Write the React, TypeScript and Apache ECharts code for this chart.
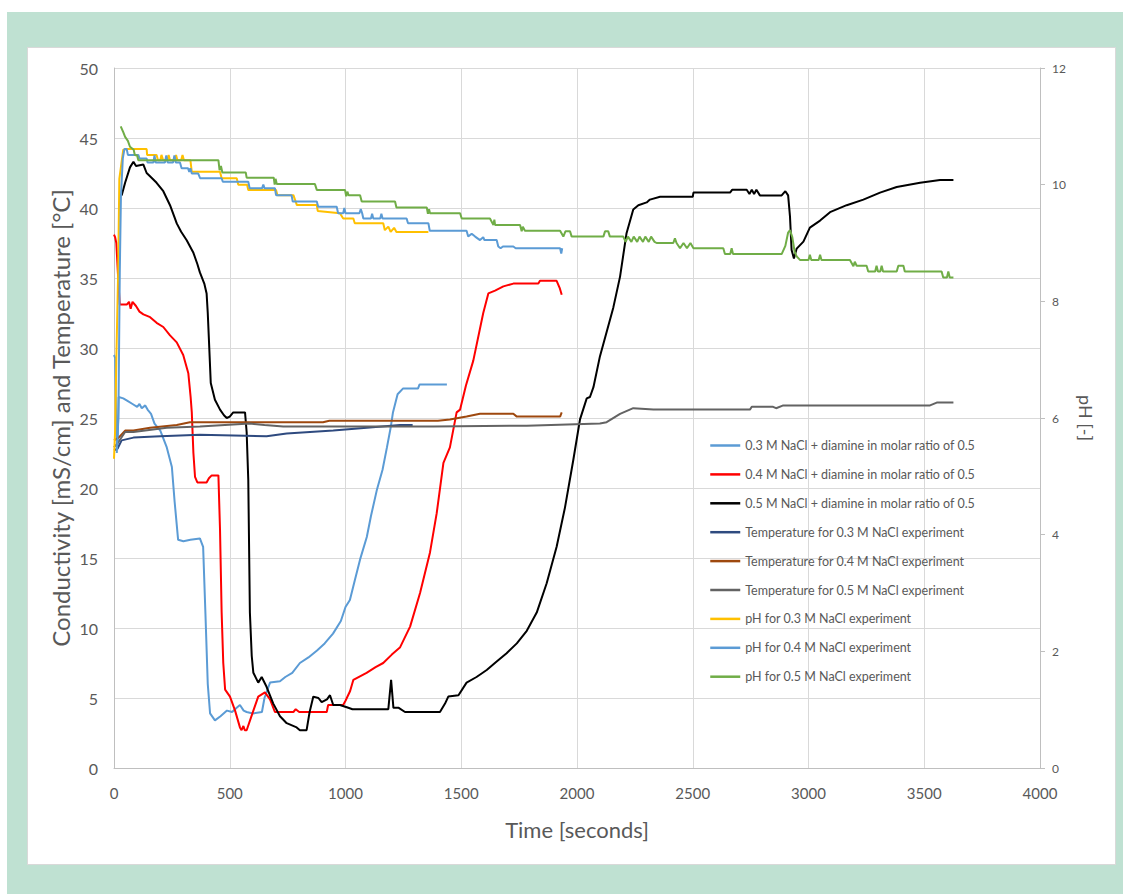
import React, { useEffect, useRef } from "react";
import * as echarts from "echarts";

const FONT = "Lato, 'Open Sans', sans-serif";

const legendNames = [
  "0.3 M NaCl + diamine in molar ratio of 0.5",
  "0.4 M NaCl + diamine in molar ratio of 0.5",
  "0.5 M NaCl + diamine in molar ratio of 0.5",
  "Temperature for 0.3 M NaCl experiment",
  "Temperature for 0.4 M NaCl experiment",
  "Temperature for 0.5 M NaCl experiment",
  "pH for 0.3 M NaCl experiment",
  "pH for 0.4 M NaCl experiment",
  "pH for 0.5 M NaCl experiment",
];

const leftAxisTitle = "Conductivity [mS/cm] and Temperature [°C]";

const seriesColors = [
  "#5b9bd5", "#ff0000", "#000000",
  "#2e4a7f", "#9e480e", "#636363",
  "#ffc000", "#5b9bd5", "#70ad47",
];

const xTicks = { min: 0, max: 4000, interval: 500 };
const leftTicks = { min: 0, max: 50, interval: 5 };
const rightTicks = { min: 0, max: 12, interval: 2 };

// Conductivity [mS/cm]
const cond03 = [
  [0, 29.5], [5, 29.3], [10, 24], [15, 22.8], [20, 26.5], [40, 26.4], [60, 26.2], [80, 26.0], [100, 25.8],
  [110, 26.0], [120, 25.7], [135, 25.9], [145, 25.6], [160, 25.3], [175, 24.6], [200, 24.1], [228, 22.9],
  [250, 21.5], [262, 19], [277, 16.3], [300, 16.2], [330, 16.3], [371, 16.4], [385, 15.8], [395, 11],
  [405, 6], [415, 3.9], [436, 3.4], [460, 3.7], [488, 4.1], [510, 4.0], [530, 4.3], [544, 4.5], [560, 4.1],
  [573, 4.0], [600, 3.9], [639, 4.0], [650, 5.0], [674, 6.1], [717, 6.2], [740, 6.5], [770, 6.8],
  [803, 7.5], [840, 7.9], [877, 8.4], [910, 8.9], [946, 9.6], [980, 10.5], [1000, 11.5], [1019, 12.0],
  [1040, 13.4], [1063, 14.9], [1092, 16.5], [1110, 18], [1136, 19.9], [1160, 21.3], [1179, 22.9],
  [1195, 24.3], [1205, 25.4], [1225, 26.7], [1248, 27.1], [1313, 27.1], [1320, 27.4], [1438, 27.4],
];

const cond04 = [
  [0, 38.1], [5, 37.9], [10, 37.5], [18, 35], [25, 33.1], [55, 33.1], [65, 33.3], [72, 32.8], [80, 33.3],
  [95, 33.0], [110, 32.6], [127, 32.4], [156, 32.2], [184, 31.8], [213, 31.5], [242, 30.9], [271, 30.4],
  [299, 29.5], [321, 28.2], [331, 26.5], [336, 25.4], [343, 22.5], [350, 20.8], [360, 20.4], [400, 20.4],
  [410, 20.7], [422, 20.9], [451, 20.9], [458, 17], [465, 11.1], [472, 7.5], [480, 5.6], [501, 5.1],
  [523, 4.1], [544, 2.9], [551, 2.7], [559, 3.0], [565, 2.7], [573, 2.7], [602, 4.1], [623, 5.1],
  [652, 5.4], [674, 4.9], [695, 4.0], [775, 4.0], [785, 4.2], [800, 4.0], [919, 4.0], [925, 4.5],
  [990, 4.5], [1000, 4.8], [1020, 5.5], [1034, 6.3], [1091, 6.8], [1130, 7.2], [1163, 7.5], [1200, 8.1],
  [1235, 8.6], [1279, 10.1], [1322, 12.5], [1365, 15.4], [1394, 18.2], [1423, 21.8], [1451, 22.9],
  [1480, 25.4], [1495, 25.6], [1520, 27.3], [1552, 29.1], [1595, 32.5], [1617, 33.9], [1646, 34.1],
  [1682, 34.4], [1725, 34.6], [1833, 34.6], [1840, 34.8], [1912, 34.8], [1925, 34.3], [1934, 33.8],
];

const cond05 = [
  [33, 40.9], [48, 41.8], [69, 42.9], [84, 43.3], [95, 43.0], [127, 43.1], [141, 42.5], [160, 42.2],
  [184, 41.8], [213, 41.2], [242, 40.2], [260, 39.4], [271, 38.9], [290, 38.3], [314, 37.7], [343, 36.8],
  [360, 36.0], [371, 35.4], [390, 34.6], [400, 33.9], [405, 32.5], [410, 30.6], [418, 27.5], [436, 26.3],
  [458, 25.6], [475, 25.2], [487, 25.0], [500, 25.1], [515, 25.4], [566, 25.4], [573, 24], [580, 20.6],
  [587, 11.1], [595, 8], [602, 6.8], [623, 6.1], [638, 6.5], [659, 5.8], [688, 4.6], [717, 3.7],
  [746, 3.2], [789, 2.9], [803, 2.7], [832, 2.7], [845, 4], [861, 5.1], [883, 5.0], [897, 4.7],
  [920, 4.9], [933, 5.2], [947, 4.5], [976, 4.5], [1012, 4.3], [1030, 4.2], [1185, 4.2], [1197, 6.3],
  [1207, 4.3], [1230, 4.3], [1257, 4.0], [1408, 4.0], [1430, 4.6], [1444, 5.1], [1488, 5.2], [1523, 6.1],
  [1566, 6.5], [1610, 7.0], [1653, 7.6], [1696, 8.2], [1740, 8.9], [1783, 9.8], [1826, 11.1],
  [1869, 13.2], [1912, 15.8], [1948, 18.6], [1984, 22.0], [2013, 24.9], [2042, 26.4], [2056, 26.5],
  [2071, 27.2], [2099, 29.4], [2157, 32.9], [2186, 35.1], [2214, 38.2], [2243, 39.9], [2265, 40.2],
  [2301, 40.4], [2315, 40.6], [2359, 40.8], [2500, 40.8], [2503, 41.1], [2661, 41.1], [2670, 41.3],
  [2733, 41.3], [2745, 41.0], [2755, 41.3], [2765, 41.0], [2775, 41.3], [2790, 40.9], [2884, 40.9],
  [2900, 41.2], [2912, 40.9], [2920, 39.4], [2927, 37.0], [2937, 36.4], [2949, 37.1], [2978, 37.6],
  [3006, 38.6], [3050, 39.1], [3093, 39.7], [3165, 40.2], [3237, 40.6], [3309, 41.1], [3381, 41.5],
  [3482, 41.8], [3568, 42.0], [3626, 42.0],
];

// Temperature [°C]
const temp03 = [
  [0, 22.7], [15, 22.8], [33, 23.4], [84, 23.6], [200, 23.7], [371, 23.8], [659, 23.7], [746, 23.9],
  [947, 24.1], [1092, 24.3], [1235, 24.5], [1290, 24.5],
];

const temp04 = [
  [0, 23.4], [20, 23.6], [48, 24.1], [84, 24.1], [156, 24.3], [271, 24.5], [328, 24.7], [903, 24.7],
  [930, 24.8], [1399, 24.8], [1451, 24.9], [1523, 25.1], [1581, 25.3], [1725, 25.3], [1740, 25.1],
  [1927, 25.1], [1934, 25.4],
];

const temp05 = [
  [0, 22.9], [20, 23.3], [48, 24.0], [84, 24.0], [228, 24.3], [371, 24.4], [587, 24.6], [650, 24.5],
  [731, 24.4], [1380, 24.4], [1783, 24.45], [2099, 24.6], [2128, 24.7], [2186, 25.3], [2243, 25.7],
  [2330, 25.6], [2747, 25.6], [2755, 25.8], [2847, 25.8], [2860, 25.7], [2891, 25.9], [3525, 25.9],
  [3554, 26.1], [3626, 26.1],
];

// pH [-]
const ph03 = [
  [0, 5.3], [5, 5.8], [10, 7], [18, 8.5], [23, 10.1], [40, 10.6], [55, 10.61], [141, 10.61], [143, 10.51],
  [184, 10.51], [190, 10.42], [200, 10.42], [205, 10.51], [212, 10.42], [230, 10.42], [236, 10.51],
  [242, 10.42], [262, 10.42], [268, 10.51], [274, 10.42], [290, 10.42], [296, 10.51], [302, 10.42],
  [330, 10.42], [336, 10.22], [458, 10.22], [465, 10.11], [530, 10.11], [537, 10.0], [575, 10.0],
  [580, 9.91], [700, 9.91], [706, 9.82], [775, 9.82], [790, 9.65], [876, 9.65], [880, 9.55], [976, 9.51],
  [990, 9.42], [1034, 9.42], [1040, 9.34], [1163, 9.34], [1170, 9.22], [1185, 9.28], [1195, 9.19],
  [1210, 9.26], [1220, 9.19], [1358, 9.19],
];

const ph04 = [
  [12, 5.4], [19, 6.0], [25, 8.5], [30, 9.8], [38, 10.45], [45, 10.61], [55, 10.61], [60, 10.51],
  [105, 10.51], [110, 10.45], [141, 10.45], [145, 10.38], [170, 10.38], [175, 10.5], [180, 10.38],
  [220, 10.38], [226, 10.5], [232, 10.38], [255, 10.38], [261, 10.5], [267, 10.38], [285, 10.38],
  [292, 10.28], [320, 10.28], [325, 10.22], [330, 10.28], [336, 10.19], [364, 10.19], [372, 10.11],
  [465, 10.11], [470, 10.05], [580, 10.05], [586, 9.94], [640, 9.94], [645, 10.0], [650, 9.94],
  [695, 9.94], [700, 9.82], [767, 9.82], [772, 9.71], [876, 9.71], [882, 9.62], [962, 9.62], [968, 9.51],
  [990, 9.51], [995, 9.6], [1000, 9.51], [1060, 9.51], [1066, 9.58], [1072, 9.51], [1077, 9.42],
  [1110, 9.42], [1115, 9.5], [1120, 9.42], [1150, 9.42], [1155, 9.5], [1160, 9.42], [1264, 9.42],
  [1270, 9.34], [1358, 9.34], [1364, 9.21], [1523, 9.21], [1530, 9.11], [1545, 9.16], [1560, 9.11],
  [1581, 9.05], [1595, 9.1], [1600, 9.05], [1653, 9.05], [1660, 8.94], [1670, 8.91], [1680, 8.94],
  [1725, 8.94], [1735, 8.91], [1927, 8.91], [1932, 8.82], [1936, 8.91],
];

const ph05 = [
  [29, 11.0], [40, 10.9], [48, 10.82], [60, 10.75], [69, 10.65], [85, 10.6], [90, 10.51], [100, 10.5],
  [105, 10.42], [451, 10.42], [456, 10.25], [462, 10.32], [468, 10.21], [569, 10.21], [573, 10.12],
  [690, 10.12], [694, 10.0], [698, 10.1], [703, 10.01], [868, 10.01], [876, 9.91], [998, 9.91],
  [1003, 9.8], [1008, 9.88], [1013, 9.82], [1063, 9.82], [1070, 9.71], [1214, 9.71], [1220, 9.61],
  [1351, 9.61], [1356, 9.5], [1361, 9.58], [1365, 9.51], [1495, 9.51], [1502, 9.42], [1624, 9.42],
  [1639, 9.31], [1643, 9.4], [1646, 9.31], [1754, 9.31], [1761, 9.2], [1766, 9.28], [1775, 9.21],
  [1927, 9.21], [1941, 9.11], [1950, 9.2], [1970, 9.2], [1977, 9.11], [2114, 9.11], [2121, 9.2],
  [2135, 9.2], [2142, 9.11], [2200, 9.11], [2210, 9.02], [2220, 9.11], [2235, 9.02], [2245, 9.11],
  [2260, 9.02], [2270, 9.11], [2285, 9.02], [2295, 9.11], [2310, 9.02], [2320, 9.11], [2335, 9.02],
  [2344, 9.0], [2416, 9.0], [2423, 9.08], [2430, 9.0], [2445, 8.91], [2460, 9.0], [2475, 8.91],
  [2490, 9.0], [2503, 8.91], [2632, 8.91], [2639, 8.81], [2662, 8.81], [2668, 8.91], [2674, 8.81],
  [2884, 8.81], [2900, 8.95], [2912, 9.18], [2920, 9.22], [2930, 9.1], [2940, 8.85], [2949, 8.77],
  [2963, 8.71], [3000, 8.71], [3006, 8.8], [3012, 8.71], [3044, 8.71], [3050, 8.8], [3056, 8.71],
  [3179, 8.71], [3194, 8.6], [3200, 8.68], [3208, 8.61], [3251, 8.61], [3258, 8.51], [3288, 8.51],
  [3294, 8.61], [3300, 8.51], [3310, 8.51], [3316, 8.61], [3322, 8.51], [3381, 8.51], [3388, 8.61],
  [3410, 8.61], [3416, 8.51], [3575, 8.51], [3582, 8.41], [3598, 8.41], [3604, 8.51], [3610, 8.41],
  [3626, 8.41],
];

const seriesData = [cond03, cond04, cond05, temp03, temp04, temp05, ph03, ph04, ph05];
const seriesAxis = [0, 0, 0, 0, 0, 0, 1, 1, 1];

export default function App() {
  const ref = useRef<HTMLDivElement>(null);

  useEffect(() => {
    if (!ref.current) return;
    const chart = echarts.init(ref.current, undefined, { renderer: "svg" });
    const axisText = { color: "#595959", fontFamily: FONT };
    chart.setOption({
      animation: false,
      backgroundColor: "transparent",
      textStyle: { fontFamily: FONT },
      grid: { left: 114, top: 68, right: 83, bottom: 126, outerBoundsMode: "none", containLabel: false },
      graphic: [
        {
          type: "text",
          x: 60,
          y: 418,
          rotation: Math.PI / 2,
          silent: true,
          style: {
            text: leftAxisTitle,
            fill: "#595959",
            font: `24px ${FONT}`,
            align: "center",
            verticalAlign: "middle",
          },
        },
      ],
      legend: {
        orient: "vertical",
        left: 709,
        top: 439,
        padding: 0,
        itemWidth: 30,
        itemHeight: 14,
        itemGap: 15.9,
        data: legendNames,
        itemStyle: { opacity: 0 },
        lineStyle: { width: 2.5 },
        textStyle: { color: "#595959", fontSize: 12.5, fontFamily: FONT },
      },
      xAxis: {
        type: "value",
        ...xTicks,
        name: "Time [seconds]",
        nameLocation: "middle",
        nameGap: 50,
        nameTextStyle: { ...axisText, fontSize: 22 },
        axisLine: { show: true, lineStyle: { color: "#bfbfbf", width: 1 } },
        axisTick: { show: false },
        axisLabel: { ...axisText, fontSize: 15, margin: 17, formatter: (v: number) => String(v) },
        splitLine: { show: true, lineStyle: { color: "#d9d9d9", width: 1 } },
      },
      yAxis: [
        {
          type: "value",
          ...leftTicks,
          position: "left",
          axisLine: { show: true, lineStyle: { color: "#bfbfbf", width: 1 } },
          axisTick: { show: false },
          axisLabel: { ...axisText, fontSize: 16, margin: 16 },
          splitLine: { show: true, lineStyle: { color: "#d9d9d9", width: 1 } },
        },
        {
          type: "value",
          ...rightTicks,
          position: "right",
          name: "pH [-]",
          nameLocation: "middle",
          nameRotate: -90,
          nameGap: 34,
          nameTextStyle: { ...axisText, fontSize: 18 },
          axisLine: { show: true, lineStyle: { color: "#bfbfbf", width: 1 } },
          axisTick: { show: true, inside: false, length: 5, lineStyle: { color: "#bfbfbf" } },
          axisLabel: { ...axisText, fontSize: 12, margin: 12 },
          splitLine: { show: false },
        },
      ],
      series: legendNames.map((name, i) => ({
        name,
        type: "line",
        yAxisIndex: seriesAxis[i],
        data: seriesData[i],
        symbol: "none",
        showSymbol: false,
        color: seriesColors[i],
        lineStyle: { color: seriesColors[i], width: 2 },
        z: 2 + (i >= 6 ? 1 : 0),
      })),
    });
    return () => chart.dispose();
  }, []);

  return (
    <div style={{ position: "fixed", left: 0, top: 0, width: 1123, height: 894, background: "#ffffff" }}>
      <div style={{ position: "absolute", left: 7, top: 12, width: 1116, height: 882, background: "#bfe1d2" }} />
      <div
        style={{
          position: "absolute",
          left: 27,
          top: 47,
          width: 1089,
          height: 818,
          background: "#ffffff",
          boxSizing: "border-box",
          border: "1px solid #d9d9d9",
        }}
      />
      <div ref={ref} style={{ position: "absolute", left: 0, top: 0, width: 1123, height: 894 }} />
    </div>
  );
}
